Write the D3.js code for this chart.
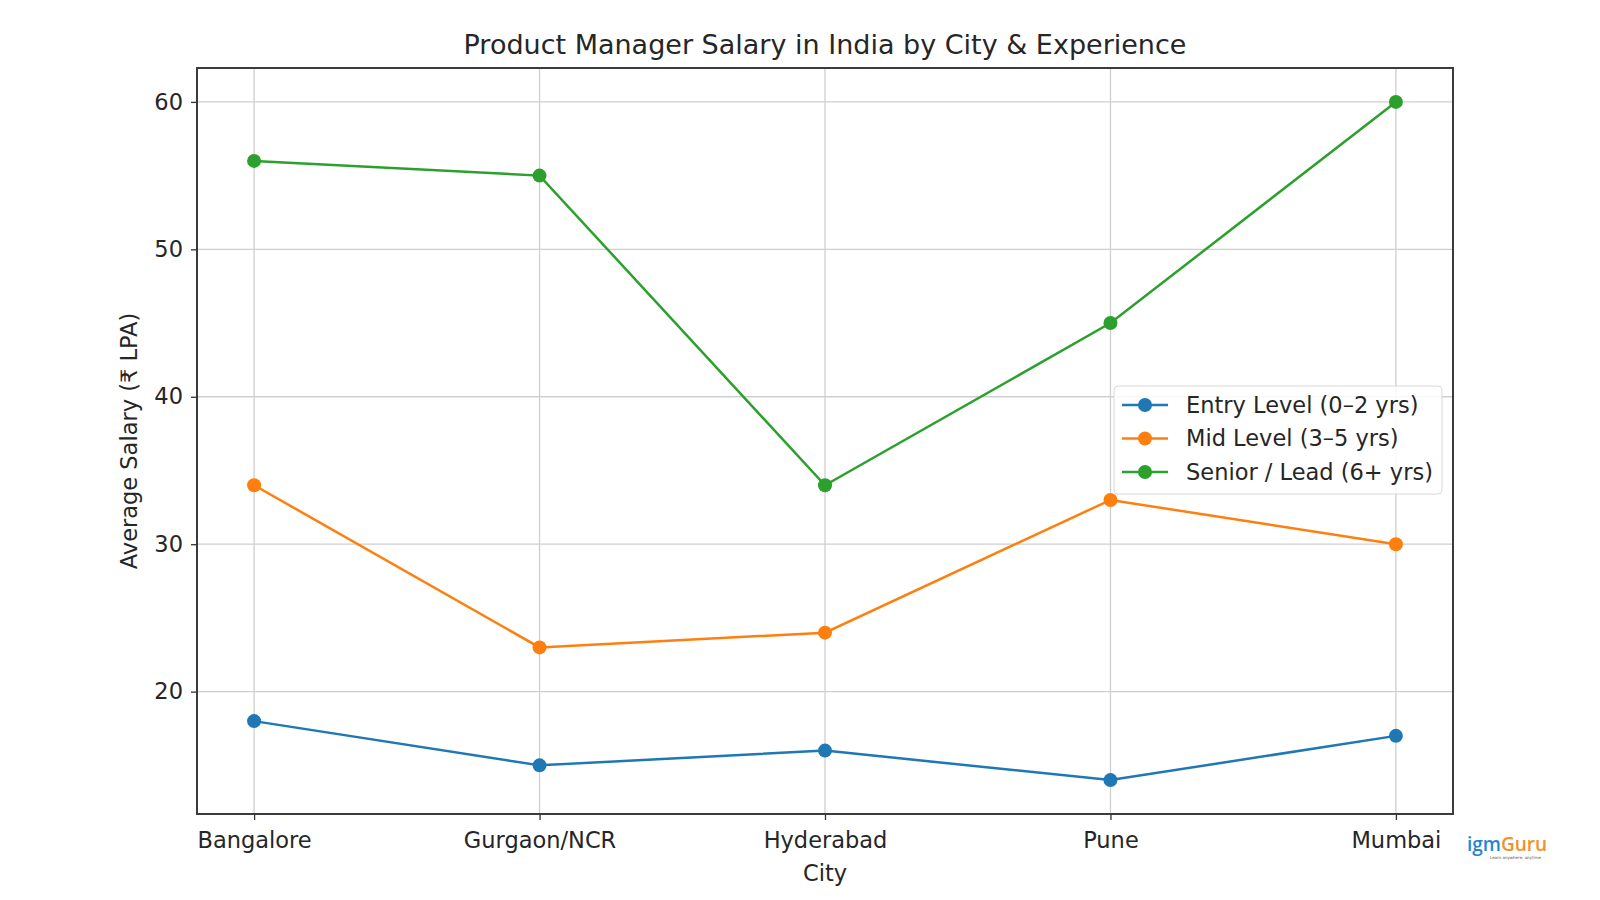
<!DOCTYPE html>
<html>
<head>
<meta charset="utf-8">
<script src="https://cdn.jsdelivr.net/npm/d3@7"></script>
<style>
  body { margin: 0; background: #fff; }
  svg text { font-family: "DejaVu Sans", sans-serif; fill: #262626; }
  .grid line { stroke: #cfcfcf; stroke-width: 1.3; }
  .axis path { display: none; }
  .axis line { stroke: #333; stroke-width: 1.3; }
  .axis text { font-size: 22.5px; }
</style>
</head>
<body>
<div id="chart"></div>
<script>
// data
const cities = ["Bangalore", "Gurgaon/NCR", "Hyderabad", "Pune", "Mumbai"];
const entryLevel = [18, 15, 16, 14, 17];
const midLevel = [34, 23, 24, 33, 30];
const seniorLevel = [56, 55, 34, 45, 60];
const seriesNames = ["Entry Level (0\u20132 yrs)", "Mid Level (3\u20135 yrs)", "Senior / Lead (6+ yrs)"];
const yTicks = [20, 30, 40, 50, 60];

const colors = ["#1f77b4", "#ff7f0e", "#2ca02c"];
const series = [entryLevel, midLevel, seniorLevel].map((vals, i) => ({
  name: seriesNames[i],
  color: colors[i],
  values: vals.map((v, j) => ({ city: j, value: v }))
}));

const W = 1600, H = 900;
const margin = {top: 68, right: 147, bottom: 86, left: 197};
const width = W - margin.left - margin.right;
const height = H - margin.top - margin.bottom;

const svg = d3.select("#chart").append("svg")
  .attr("width", W)
  .attr("height", H);

const chart = svg.append("g")
  .attr("transform", `translate(${margin.left},${margin.top})`);

// scales, with matplotlib-like 5% padding
const allVals = entryLevel.concat(midLevel, seniorLevel);
const yMin = d3.min(allVals), yMax = d3.max(allVals);
const yPad = (yMax - yMin) * 0.05;
const xPad = (cities.length - 1) * 0.05;

const x = d3.scaleLinear()
  .domain([-xPad, cities.length - 1 + xPad])
  .range([0, width]);

const y = d3.scaleLinear()
  .domain([yMin - yPad, yMax + yPad])
  .range([height, 0]);

// grid
const grid = chart.append("g").attr("class", "grid");

grid.selectAll("line.v")
  .data(cities)
  .join("line")
    .attr("class", "v")
    .attr("x1", (d, i) => x(i))
    .attr("x2", (d, i) => x(i))
    .attr("y1", 0)
    .attr("y2", height);

grid.selectAll("line.h")
  .data(yTicks)
  .join("line")
    .attr("class", "h")
    .attr("x1", 0)
    .attr("x2", width)
    .attr("y1", d => y(d))
    .attr("y2", d => y(d));

// axes
const xAxis = d3.axisBottom(x)
  .tickValues(d3.range(cities.length))
  .tickFormat(i => cities[i])
  .tickSize(6)
  .tickPadding(12);

chart.append("g")
  .attr("class", "axis x-axis")
  .attr("transform", `translate(0,${height})`)
  .call(xAxis);

const yAxis = d3.axisLeft(y)
  .tickValues(yTicks)
  .tickSize(6)
  .tickPadding(8);

chart.append("g")
  .attr("class", "axis y-axis")
  .call(yAxis);

// frame
chart.append("rect")
  .attr("width", width)
  .attr("height", height)
  .attr("fill", "none")
  .attr("stroke", "#333")
  .attr("stroke-width", 1.9);

// lines
const line = d3.line()
  .x(d => x(d.city))
  .y(d => y(d.value));

const gSeries = chart.selectAll(".series")
  .data(series)
  .join("g")
    .attr("class", "series");

gSeries.append("path")
  .attr("d", d => line(d.values))
  .attr("fill", "none")
  .attr("stroke", d => d.color)
  .attr("stroke-width", 2.5);

gSeries.selectAll("circle")
  .data(d => d.values.map(v => ({...v, color: d.color})))
  .join("circle")
    .attr("cx", d => x(d.city))
    .attr("cy", d => y(d.value))
    .attr("r", 7)
    .attr("fill", d => d.color);

// labels
svg.append("text")
  .attr("x", margin.left + width / 2)
  .attr("y", 54)
  .attr("text-anchor", "middle")
  .style("font-size", "27px")
  .text("Product Manager Salary in India by City & Experience");

svg.append("text")
  .attr("x", margin.left + width / 2)
  .attr("y", 881)
  .attr("text-anchor", "middle")
  .style("font-size", "22.5px")
  .text("City");

svg.append("text")
  .attr("transform", `translate(137,${margin.top + height / 2}) rotate(-90)`)
  .attr("text-anchor", "middle")
  .style("font-size", "22.5px")
  .text("Average Salary (\u20B9 LPA)");

// legend
const legend = svg.append("g")
  .attr("transform", "translate(1114,386)");

legend.append("rect")
  .attr("width", 328)
  .attr("height", 108)
  .attr("rx", 4)
  .attr("fill", "#fff")
  .attr("fill-opacity", 0.85)
  .attr("stroke", "#d8d8d8");

const legendItems = legend.selectAll(".legend-item")
  .data(series)
  .join("g")
    .attr("class", "legend-item")
    .attr("transform", (d, i) => `translate(0,${19 + i * 33.5})`);

legendItems.append("line")
  .attr("x1", 8)
  .attr("x2", 54)
  .attr("stroke", d => d.color)
  .attr("stroke-width", 2.5);

legendItems.append("circle")
  .attr("cx", 31)
  .attr("r", 7)
  .attr("fill", d => d.color);

legendItems.append("text")
  .attr("x", 72)
  .attr("dy", "0.35em")
  .style("font-size", "22.5px")
  .text(d => d.name);

// watermark
const logo = svg.append("text")
  .attr("x", 1467)
  .attr("y", 851)
  .style("font-family", "'Open Sans', sans-serif")
  .style("font-size", "19px")
  .style("font-weight", "600");
logo.append("tspan").style("fill", "#1f86d6").text("igm");
logo.append("tspan").style("fill", "#f0912a").text("Guru");

svg.append("text")
  .attr("x", 1490)
  .attr("y", 859)
  .style("font-size", "4px")
  .style("fill", "#555")
  .text("Learn anywhere, anytime");
</script>
</body>
</html>
